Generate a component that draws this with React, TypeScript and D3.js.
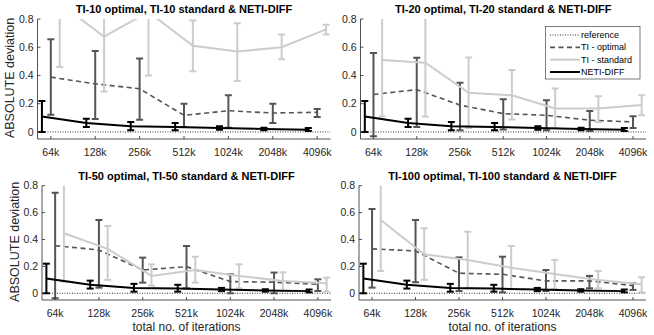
import React from "react";
import * as d3 from "d3";

// iteration budgets (the TI-50 panel in the original figure prints "521k")
const iterLabels = ["64k", "128k", "256k", "512k", "1024k", "2048k", "4096k"];
const iterLabels50 = ["64k", "128k", "256k", "521k", "1024k", "2048k", "4096k"];

// NETI-DIFF is the same in every panel
const netiMean = [0.11, 0.063, 0.04, 0.035, 0.028, 0.021, 0.016];
const netiLo = [0.0, 0.035, 0.012, 0.012, 0.016, 0.012, 0.007];
const netiHi = [0.22, 0.094, 0.07, 0.063, 0.04, 0.03, 0.028];

const opt10Mean = [0.388, 0.341, 0.306, 0.118, 0.15, 0.134, 0.139];
const opt10Lo = [0.122, 0.092, 0.087, 0.035, 0.03, 0.064, 0.106];
const opt10Hi = [0.656, 0.574, 0.52, 0.2, 0.26, 0.2, 0.162];
const std10Mean = [0.91, 0.675, 0.85, 0.61, 0.57, 0.6, 0.727];
const std10Lo = [0.46, 0.287, 0.4, 0.43, 0.36, 0.515, 0.69];
const std10Hi = [1.36, 1.06, 1.3, 0.79, 0.77, 0.69, 0.76];

const opt20Mean = [0.265, 0.3, 0.19, 0.13, 0.118, 0.083, 0.071];
const opt20Lo = [-0.03, 0.035, 0.012, 0.017, 0.012, 0.007, 0.028];
const opt20Hi = [0.56, 0.525, 0.348, 0.232, 0.225, 0.149, 0.111];
const std20Mean = [0.509, 0.49, 0.277, 0.26, 0.166, 0.166, 0.19];
const std20Lo = [0.11, 0.11, 0.028, 0.088, 0.028, 0.071, 0.118];
const std20Hi = [0.91, 0.87, 0.528, 0.438, 0.308, 0.253, 0.26];

const opt50Mean = [0.354, 0.322, 0.173, 0.198, 0.087, 0.082, 0.067];
const opt50Lo = [-0.037, 0.042, 0.079, 0.037, 0.0, 0.0, 0.017];
const opt50Hi = [0.748, 0.545, 0.265, 0.352, 0.141, 0.154, 0.104];
const std50Mean = [0.446, 0.33, 0.129, 0.173, 0.129, 0.092, 0.074];
const std50Lo = [0.087, 0.1, 0.057, 0.079, 0.037, 0.017, 0.012];
const std50Hi = [0.82, 0.5, 0.215, 0.272, 0.215, 0.156, 0.116];

const opt100Mean = [0.33, 0.315, 0.149, 0.141, 0.092, 0.092, 0.057];
const opt100Lo = [0.042, 0.082, 0.017, 0.007, 0.017, 0.037, 0.025];
const opt100Hi = [0.627, 0.545, 0.267, 0.272, 0.173, 0.129, 0.074];
const std100Mean = [0.545, 0.29, 0.248, 0.19, 0.144, 0.099, 0.067];
const std100Lo = [0.166, 0.1, 0.037, 0.032, 0.032, 0.037, 0.007];
const std100Hi = [0.92, 0.483, 0.458, 0.352, 0.248, 0.166, 0.119];

const yTicks = [0, 0.2, 0.4, 0.6, 0.8];
const legendItems = ["reference", "TI - optimal", "TI - standard", "NETI-DIFF"];

const FONT = "'Liberation Sans', Arial, Helvetica, sans-serif";
const AXIS = "#262626";
const OPT_C = "#555555";
const STD_C = "#cccccc";

const panels = [
  { id: 0, title: "TI-10 optimal, TI-10 standard & NETI-DIFF", labels: iterLabels,
    opt: [opt10Mean, opt10Lo, opt10Hi], std: [std10Mean, std10Lo, std10Hi],
    x0: 37.5, x1: 330.5, yTop: 19, yBot: 139, yLab: 10, xLab: false, legend: false },
  { id: 1, title: "TI-20 optimal, TI-20 standard & NETI-DIFF", labels: iterLabels,
    opt: [opt20Mean, opt20Lo, opt20Hi], std: [std20Mean, std20Lo, std20Hi],
    x0: 360.5, x1: 646, yTop: 19, yBot: 139, yLab: null, xLab: false, legend: true },
  { id: 2, title: "TI-50 optimal, TI-50 standard & NETI-DIFF", labels: iterLabels50,
    opt: [opt50Mean, opt50Lo, opt50Hi], std: [std50Mean, std50Lo, std50Hi],
    x0: 42, x1: 331, yTop: 185.7, yBot: 300, yLab: 15, xLab: true, legend: false },
  { id: 3, title: "TI-100 optimal, TI-100 standard & NETI-DIFF", labels: iterLabels,
    opt: [opt100Mean, opt100Lo, opt100Hi], std: [std100Mean, std100Lo, std100Hi],
    x0: 359, x1: 646, yTop: 185.7, yBot: 300, yLab: null, xLab: true, legend: false },
];

function Series({ x, y, mean, lo, hi, offset, color, width, dash }) {
  const line = d3.line<number>()
    .x((_, i) => x(i + 1 + offset))
    .y((d) => y(d));
  return (
    <g>
      <path d={line(mean) || ""} fill="none" stroke={color} strokeWidth={width}
        strokeDasharray={dash} />
      {mean.map((_, i) => {
        const cx = x(i + 1 + offset);
        return (
          <g key={i} stroke={color} strokeWidth={2}>
            <line x1={cx} x2={cx} y1={y(lo[i])} y2={y(hi[i])} />
            <line x1={cx - 3.5} x2={cx + 3.5} y1={y(lo[i])} y2={y(lo[i])} />
            <line x1={cx - 3.5} x2={cx + 3.5} y1={y(hi[i])} y2={y(hi[i])} />
          </g>
        );
      })}
    </g>
  );
}

function Panel({ p }) {
  const x = d3.scaleLinear().domain([0.7, 7.3]).range([p.x0, p.x1]);
  const y = d3.scaleLinear().domain([-0.05, 0.8]).range([p.yBot, p.yTop]);
  const clipId = `clip${p.id}`;
  const cx = (p.x0 + p.x1) / 2;
  return (
    <g fontFamily={FONT}>
      <defs>
        <clipPath id={clipId}>
          <rect x={p.x0} y={p.yTop} width={p.x1 - p.x0} height={p.yBot - p.yTop} />
        </clipPath>
      </defs>
      <text x={cx} y={p.yTop - 6} textAnchor="middle" fontSize={11} fontWeight="bold"
        fill="#000">{p.title}</text>

      <g clipPath={`url(#${clipId})`}>
        <line x1={p.x0} x2={p.x1} y1={y(0)} y2={y(0)} stroke="#000" strokeWidth={0.8}
          strokeDasharray="1,1.5" />
        <Series x={x} y={y} mean={p.opt[0]} lo={p.opt[1]} hi={p.opt[2]} offset={0}
          color={OPT_C} width={1.6} dash="5,3.5" />
        <Series x={x} y={y} mean={p.std[0]} lo={p.std[1]} hi={p.std[2]} offset={0.2}
          color={STD_C} width={2} dash={null} />
        <Series x={x} y={y} mean={netiMean} lo={netiLo} hi={netiHi} offset={-0.2}
          color="#000" width={2} dash={null} />
      </g>

      {/* axes */}
      <line x1={p.x0} x2={p.x0} y1={p.yTop} y2={p.yBot} stroke={AXIS} strokeWidth={0.8} />
      <line x1={p.x0} x2={p.x1} y1={p.yBot} y2={p.yBot} stroke={AXIS} strokeWidth={0.8} />
      {yTicks.map((t) => (
        <g key={t}>
          <line x1={p.x0} x2={p.x0 + 3} y1={y(t)} y2={y(t)} stroke={AXIS} strokeWidth={0.8} />
          <text x={p.x0 - 4} y={y(t)} dy="0.35em" textAnchor="end" fontSize={10.5}
            fill={AXIS}>{t === 0 ? "0" : t.toFixed(1)}</text>
        </g>
      ))}
      {p.labels.map((lab, i) => (
        <g key={lab}>
          <line x1={x(i + 1)} x2={x(i + 1)} y1={p.yBot} y2={p.yBot - 3} stroke={AXIS}
            strokeWidth={0.8} />
          <text x={x(i + 1)} y={p.yBot + 13} dy="0.35em" textAnchor="middle" fontSize={10.5}
            fill={AXIS}>{lab}</text>
        </g>
      ))}
      {p.yLab !== null && (
        <text transform={`translate(${p.yLab},${(p.yTop + p.yBot) / 2 - 1}) rotate(-90)`}
          textAnchor="middle" dy="0.35em" fontSize={12.5} fill={AXIS}>ABSOLUTE deviation</text>
      )}
      {p.xLab && (
        <text x={cx} y={p.yBot + 27} dy="0.35em" textAnchor="middle" fontSize={12}
          fill={AXIS}>total no. of iterations</text>
      )}
      {p.legend && <Legend />}
    </g>
  );
}

function Legend() {
  const ly = d3.scalePoint<string>().domain(legendItems).range([35, 72]);
  const styles = [
    { c: "#000", w: 0.8, d: "1,1.5" },
    { c: OPT_C, w: 1.6, d: "5,3.5" },
    { c: STD_C, w: 2, d: null },
    { c: "#000", w: 2, d: null },
  ];
  return (
    <g>
      <rect x={545.5} y={26.5} width={94.5} height={52.5} fill="#fff" stroke={AXIS}
        strokeWidth={0.6} />
      {legendItems.map((name, i) => (
        <g key={name}>
          <line x1={550} x2={580} y1={ly(name)} y2={ly(name)} stroke={styles[i].c}
            strokeWidth={styles[i].w} strokeDasharray={styles[i].d} />
          <text x={581} y={ly(name)} dy="0.35em" fontSize={9} fill="#000">{name}</text>
        </g>
      ))}
    </g>
  );
}

export default function App() {
  return (
    <svg width={654} height={335} style={{ position: "absolute", left: 0, top: 0 }}>
      <rect width={654} height={335} fill="#fff" />
      {panels.map((p) => (
        <Panel key={p.id} p={p} />
      ))}
    </svg>
  );
}
